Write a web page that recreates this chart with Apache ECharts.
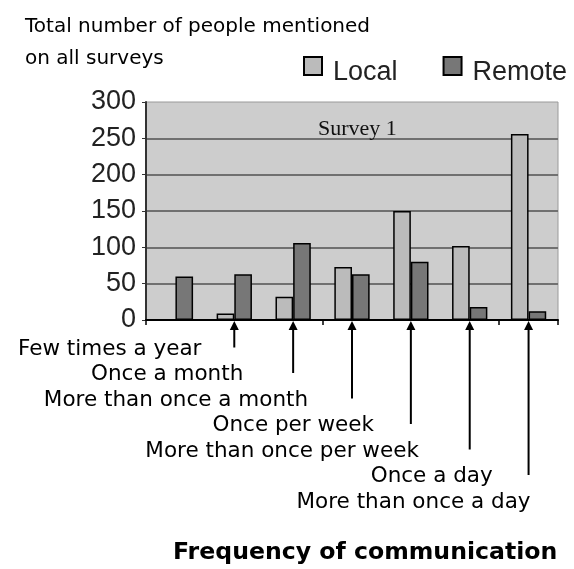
<!DOCTYPE html>
<html>
<head>
<meta charset="utf-8">
<script src="https://cdn.jsdelivr.net/npm/echarts@6/dist/echarts.min.js"></script>
<style>html,body{margin:0;padding:0;background:#fff;}#c{width:574px;height:569px;}</style>
</head>
<body>
<div id="c"></div>
<script>
var categories = ['Few times a year', 'Once a month', 'More than once a month', 'Once per week', 'More than once per week', 'Once a day', 'More than once a day'];
var localValues = [0, 9, 32, 73, 150, 102, 256];
var remoteValues = [60, 63, 106, 63, 80, 18, 12];
var yTicks = [0, 50, 100, 150, 200, 250, 300];
var seriesNames = ['Local', 'Remote'];

// layout (not data)
var labelRightOffset = [26, 9, 15, 22, 8, 23, 2];
var labelBaseY = 29, labelStep = 25.5, arrowGap = 27;
var labelFont = '21.5px "DejaVu Sans"';
var legendIcon = 'path://M0,0 L18,0 L18,18 L0,18 Z M0,32 L0,32';

var chart = echarts.init(document.getElementById('c'), null, {renderer: 'canvas'});
chart.setOption({
  backgroundColor: '#ffffff',
  animation: false,
  title: [
    {text: 'Total number of people mentioned\non all surveys', left: 20, top: 6,
     textStyle: {fontFamily: 'DejaVu Sans', fontSize: 20, fontWeight: 'normal', color: '#000', lineHeight: 32}},
    {text: 'Survey 1', left: 313, top: 113,
     textStyle: {fontFamily: 'Liberation Serif', fontSize: 22, fontWeight: 'normal', color: '#111'}},
    {text: 'Frequency of communication', left: 168, top: 536,
     textStyle: {fontFamily: 'DejaVu Sans', fontSize: 23.6, fontWeight: 'bold', color: '#000'}}
  ],
  legend: {
    data: seriesNames, left: 303, top: 56, padding: 0, icon: legendIcon, itemWidth: 18, itemHeight: 32, itemGap: 45,
    textStyle: {fontFamily: 'Liberation Sans', fontSize: 27, color: '#222', padding: [0, 0, 0, 6]}
  },
  grid: {left: 146, right: 16, top: 102, bottom: 249, show: true, backgroundColor: '#cdcdcd', borderColor: '#9a9a9a', borderWidth: 1},
  xAxis: {
    type: 'category', data: categories,
    axisLine: {lineStyle: {color: '#000', width: 2}},
    axisTick: {show: true, length: 5, lineStyle: {color: '#000', width: 1.5}},
    axisLabel: {show: false}
  },
  yAxis: {
    type: 'value', min: 0, max: 300, interval: 50,
    axisLine: {show: true, lineStyle: {color: '#333', width: 2}},
    axisTick: {show: true, length: 4, lineStyle: {color: '#333'}},
    axisLabel: {margin: 10, fontFamily: 'Liberation Sans', fontSize: 27, color: '#222',
      formatter: function (v) { return yTicks.indexOf(v) >= 0 ? String(v) : ''; }},
    splitLine: {show: true, showMaxLine: false, showMinLine: false, lineStyle: {color: '#707070', width: 2}}
  },
  series: [
    {name: 'Local', type: 'bar', data: localValues, barGap: '0%', barCategoryGap: '40%',
     itemStyle: {color: '#bbbbbb', borderColor: '#000', borderWidth: 1.5}},
    {name: 'Remote', type: 'bar', data: remoteValues, barGap: '0%', barCategoryGap: '40%',
     itemStyle: {color: '#777777', borderColor: '#000', borderWidth: 1.5}},
    {name: 'labels', type: 'custom', z: 10, clip: false, silent: true,
     data: categories.map(function (c, i) { return [i, 0]; }),
     encode: {x: 0, y: 1},
     renderItem: function (params, api) {
       var i = api.value(0);
       var p = api.coord([i, 0]);
       var x = p[0], y0 = p[1];
       var ly = y0 + labelBaseY + labelStep * i;
       var children = [];
       if (i > 0) {
         children.push({type: 'line', shape: {x1: x, y1: y0 + 6, x2: x, y2: ly - arrowGap},
           style: {stroke: '#000', lineWidth: 2}});
         children.push({type: 'polygon', shape: {points: [[x, y0 + 1], [x - 4.5, y0 + 10], [x + 4.5, y0 + 10]]},
           style: {fill: '#000'}});
       }
       children.push({type: 'text', style: {text: categories[i], x: x + labelRightOffset[i], y: ly,
         align: 'right', verticalAlign: 'middle', font: labelFont, fill: '#000'}});
       return {type: 'group', children: children};
     }}
  ]
});
</script>
</body>
</html>
